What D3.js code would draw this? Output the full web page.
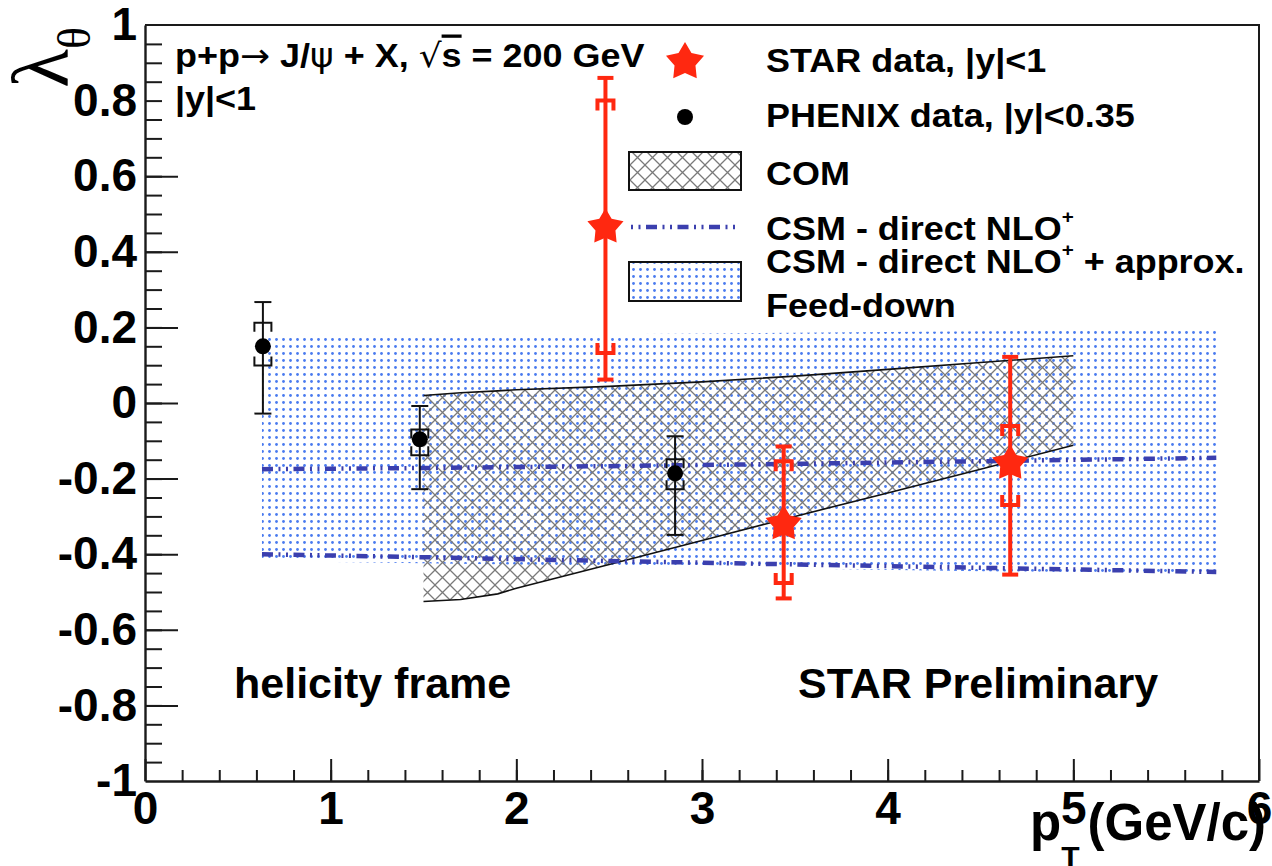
<!DOCTYPE html>
<html>
<head>
<meta charset="utf-8">
<script src="https://cdn.jsdelivr.net/npm/d3@7"></script>
<style>
html, body { margin: 0; padding: 0; background: #fff; }
svg { display: block; font-family: "Liberation Sans", Arial, Helvetica, sans-serif; }
</style>
</head>
<body>
<svg id="chart" width="1272" height="866"></svg>
<script>
// STAR points (red stars): value, stat and sys bounds
const starX = [2.48, 3.44, 4.66];
const starY = [0.465, -0.32, -0.16];
const starStatLow = [0.062, -0.517, -0.454];
const starStatHigh = [0.86, -0.115, 0.122];
const starSysLow = [0.132, -0.476, -0.27];
const starSysHigh = [0.80, -0.154, -0.061];

// PHENIX points (black dots)
const phenixX = [0.635, 1.48, 2.855];
const phenixY = [0.15, -0.096, -0.186];
const phenixStatLow = [-0.028, -0.228, -0.349];
const phenixStatHigh = [0.267, -0.008, -0.088];
const phenixSysLow = [0.099, -0.138, -0.228];
const phenixSysHigh = [0.212, -0.07, -0.149];

// COM band
const comX = [1.5, 1.7, 1.9, 2.0, 2.5, 3.0, 3.5, 4.0, 4.5, 5.0];
const comHigh = [0.02, 0.027, 0.032, 0.035, 0.044, 0.056, 0.071, 0.089, 0.107, 0.125];
const comLow = [-0.525, -0.52, -0.505, -0.49, -0.427, -0.364, -0.30, -0.238, -0.175, -0.112];

// CSM direct NLO+ lines and band with feed-down
const csmX = [0.63, 1.5, 2.5, 3.5, 4.5, 5.77];
const csmBandHigh = [0.175, 0.178, 0.182, 0.186, 0.19, 0.194];
const csmBandLow = [-0.418, -0.424, -0.431, -0.438, -0.445, -0.452];
const csmLineUpper = [-0.175, -0.172, -0.167, -0.161, -0.154, -0.145];
const csmLineLower = [-0.40, -0.408, -0.418, -0.427, -0.436, -0.447];

// ticks
const yTickLabels = [-1, -0.8, -0.6, -0.4, -0.2, 0, 0.2, 0.4, 0.6, 0.8, 1];
const yMajorTicks = [-0.8, -0.6, -0.4, -0.2, 0, 0.2, 0.4, 0.6];
const xTickLabels = [0, 1, 2, 3, 4, 5, 6];

const frame = { left: 145, right: 1259, top: 25, bottom: 781 };
const red = '#ff2810';
const csmBlue = '#3b3fae';
const dashPattern = '11,5.5,2,5.5,2,5.5';

const svg = d3.select('#chart');

const x = d3.scaleLinear().domain([0, 6]).range([frame.left, frame.right]);
const y = d3.scaleLinear().domain([-1, 1]).range([frame.bottom, frame.top]);

// patterns
const defs = svg.append('defs');
const hatch = defs.append('pattern')
    .attr('id', 'xhatch')
    .attr('patternUnits', 'userSpaceOnUse')
    .attr('width', 15).attr('height', 15);
hatch.append('path')
    .attr('d', 'M-2,-2L17,17M17,-2L-2,17M-2,13L2,17M13,-2L17,2M-2,2L2,-2M13,17L17,13')
    .attr('stroke', '#7a7a7a')
    .attr('stroke-width', 1.3)
    .attr('fill', 'none');

const dots = defs.append('pattern')
    .attr('id', 'dots')
    .attr('patternUnits', 'userSpaceOnUse')
    .attr('width', 7).attr('height', 7);
dots.append('circle')
    .attr('cx', 3.5).attr('cy', 3.5).attr('r', 1.4)
    .attr('fill', '#4a7bef');

const plot = svg.append('g');

// CSM band with feed-down
const csmIdx = d3.range(csmX.length);
plot.append('path')
    .attr('d', d3.area()
        .x(i => x(csmX[i]))
        .y0(i => y(csmBandLow[i]))
        .y1(i => y(csmBandHigh[i]))(csmIdx))
    .attr('fill', 'url(#dots)');

// COM band
const comIdx = d3.range(comX.length);
plot.append('path')
    .attr('d', d3.area()
        .x(i => x(comX[i]))
        .y0(i => y(comLow[i]))
        .y1(i => y(comHigh[i]))(comIdx))
    .attr('fill', 'url(#xhatch)');

[comHigh, comLow].forEach(arr => {
    plot.append('path')
        .attr('d', d3.line().x(i => x(comX[i])).y(i => y(arr[i]))(comIdx))
        .attr('fill', 'none')
        .attr('stroke', '#111')
        .attr('stroke-width', 1.6);
});

// CSM direct lines
[csmLineUpper, csmLineLower].forEach(arr => {
    plot.append('path')
        .attr('d', d3.line().x(i => x(csmX[i])).y(i => y(arr[i]))(csmIdx))
        .attr('fill', 'none')
        .attr('stroke', csmBlue)
        .attr('stroke-width', 4.5)
        .attr('stroke-dasharray', dashPattern);
});

// error bars: plain caps for stat, brackets for sys
function errorBar(g, cx, statLo, statHi, sysLo, sysHi, color, lw, half, tick) {
    const e = g.append('g').attr('stroke', color).attr('stroke-width', lw).attr('fill', 'none');
    const px = x(cx);
    e.append('line').attr('x1', px).attr('x2', px).attr('y1', y(statLo)).attr('y2', y(statHi));
    [statLo, statHi].forEach(v => {
        e.append('line').attr('x1', px - half).attr('x2', px + half).attr('y1', y(v)).attr('y2', y(v));
    });
    const yh = y(sysHi), yl = y(sysLo);
    e.append('path').attr('d', `M${px - half},${yh + tick}V${yh}H${px + half}V${yh + tick}`);
    e.append('path').attr('d', `M${px - half},${yl - tick}V${yl}H${px + half}V${yl - tick}`);
}

phenixX.forEach((v, i) => {
    errorBar(plot, v, phenixStatLow[i], phenixStatHigh[i], phenixSysLow[i], phenixSysHigh[i], '#111', 2, 8.5, 9);
});
starX.forEach((v, i) => {
    errorBar(plot, v, starStatLow[i], starStatHigh[i], starSysLow[i], starSysHigh[i], red, 4, 8, 10);
});

function starPath(R, r) {
    const pts = [];
    for (let k = 0; k < 10; k++) {
        const a = -Math.PI / 2 + k * Math.PI / 5;
        const rad = k % 2 === 0 ? R : r;
        pts.push([rad * Math.cos(a), rad * Math.sin(a)]);
    }
    return 'M' + pts.map(p => p[0].toFixed(2) + ',' + p[1].toFixed(2)).join('L') + 'Z';
}

plot.selectAll('.phenix')
    .data(phenixX)
    .enter().append('circle')
    .attr('cx', d => x(d))
    .attr('cy', (d, i) => y(phenixY[i]))
    .attr('r', 8)
    .attr('fill', '#000');

plot.selectAll('.star')
    .data(starX)
    .enter().append('path')
    .attr('d', starPath(19, 10.5))
    .attr('transform', (d, i) => `translate(${x(d)},${y(starY[i])})`)
    .attr('fill', red);

// axes
const axisColor = '#1a1a1a';
const fmt = d => String(+d.toFixed(1));

function styleAxis(g) {
    g.selectAll('line').attr('stroke', axisColor).attr('stroke-width', 2);
    g.selectAll('path.domain').attr('stroke', axisColor).attr('stroke-width', 2.4);
    g.selectAll('text')
        .attr('fill', '#000')
        .attr('font-size', 46)
        .attr('font-weight', 'bold')
        .attr('font-family', '"Liberation Sans", Arial, sans-serif');
}

const yMinor = d3.range(-19, 20).map(i => i * 0.05);
const xMinor = d3.range(1, 30).map(i => i * 0.2);

const yAxisG = svg.append('g').attr('transform', `translate(${frame.left},0)`);
yAxisG.append('g').call(d3.axisLeft(y).tickValues(yMinor).tickSizeInner(-17).tickSizeOuter(0).tickFormat(''))
    .call(styleAxis);
yAxisG.append('g').call(d3.axisLeft(y).tickValues(yMajorTicks).tickSizeInner(-33).tickSizeOuter(0).tickFormat(''))
    .call(g => g.select('.domain').remove()).call(styleAxis);
yAxisG.append('g').call(d3.axisLeft(y).tickValues(yTickLabels).tickSize(0).tickPadding(8).tickFormat(fmt))
    .call(g => g.select('.domain').remove()).call(styleAxis);

const xAxisG = svg.append('g').attr('transform', `translate(0,${frame.bottom})`);
xAxisG.append('g').call(d3.axisBottom(x).tickValues(xMinor).tickSizeInner(-11).tickSizeOuter(0).tickFormat(''))
    .call(styleAxis);
xAxisG.append('g').call(d3.axisBottom(x).tickValues(xTickLabels).tickSizeInner(-22).tickSizeOuter(0).tickFormat(''))
    .call(g => g.select('.domain').remove()).call(styleAxis);
xAxisG.append('g').call(d3.axisBottom(x).tickValues(xTickLabels).tickSize(0).tickPadding(10).tickFormat(fmt))
    .call(g => g.select('.domain').remove()).call(styleAxis);

// frame top and right
svg.append('path')
    .attr('d', `M${frame.left},${frame.top}H${frame.right}V${frame.bottom}`)
    .attr('fill', 'none')
    .attr('stroke', axisColor)
    .attr('stroke-width', 2);

// axis titles
const yTitle = svg.append('text')
    .attr('transform', 'translate(68,27) rotate(-90)')
    .attr('text-anchor', 'end')
    .attr('font-family', '"Liberation Serif", "DejaVu Serif", serif');
yTitle.append('tspan').attr('font-size', 80).text('λ');
yTitle.append('tspan').attr('font-size', 46).attr('dy', 22).text('θ');

const xTitle = svg.append('text')
    .attr('x', 1030).attr('y', 840)
    .attr('font-weight', 'bold');
xTitle.append('tspan').attr('font-size', 51).text('p');
xTitle.append('tspan').attr('font-size', 30).attr('dy', 27).text('T');
xTitle.append('tspan').attr('font-size', 51).attr('dy', -27).attr('dx', 8).text('(GeV/c)');

// text helper with slight horizontal stretch like the original
function label(px, py, size, sx) {
    return svg.append('text')
        .attr('transform', `translate(${px},${py}) scale(${sx},1)`)
        .attr('font-size', size)
        .attr('font-weight', 'bold')
        .attr('fill', '#000');
}

const thin = 'DejaVu Sans, sans-serif';
const t1 = label(175, 67, 33, 1.09);
t1.append('tspan').text('p+p');
t1.append('tspan').attr('font-weight', 'normal').attr('font-family', thin).text('→');
t1.append('tspan').text(' J/');
t1.append('tspan').attr('font-weight', 'normal').attr('font-family', thin).text('ψ');
t1.append('tspan').text(' + X, ');
t1.append('tspan').attr('font-weight', 'normal').attr('font-family', thin).text('√');
t1.append('tspan').style('text-decoration', 'overline').text('s');
t1.append('tspan').text(' = 200 GeV');
label(175, 110, 33, 1.09).text('|y|<1');

label(234, 698, 43, 1).text('helicity frame');
label(798, 698, 43, 1).text('STAR Preliminary');

// legend
const legendLabels = ['STAR data, |y|<1', 'PHENIX data, |y|<0.35', 'COM'];
const legendBase = [72, 127, 185];
legendLabels.forEach((s, i) => label(766, legendBase[i], 33, 1.09).text(s));

const l4 = label(766, 240, 33, 1.09);
l4.append('tspan').text('CSM - direct NLO');
l4.append('tspan').attr('font-size', 19).attr('dy', -17).text('+');
const l5 = label(766, 273, 33, 1.09);
l5.append('tspan').text('CSM - direct NLO');
l5.append('tspan').attr('font-size', 19).attr('dy', -17).text('+');
l5.append('tspan').attr('dy', 17).text(' + approx.');
label(766, 317, 33, 1.09).text('Feed-down');

const leg = svg.append('g');
leg.append('path').attr('d', starPath(20, 11)).attr('transform', 'translate(685,62)').attr('fill', red);
leg.append('circle').attr('cx', 685).attr('cy', 117).attr('r', 8).attr('fill', '#000');
leg.append('rect').attr('x', 629).attr('y', 152).attr('width', 112).attr('height', 38)
    .attr('fill', 'url(#xhatch)').attr('stroke', '#111').attr('stroke-width', 2);
leg.append('line').attr('x1', 631).attr('x2', 736).attr('y1', 227).attr('y2', 227)
    .attr('stroke', csmBlue).attr('stroke-width', 4.5).attr('stroke-dasharray', '2,5.5,2,5.5,11,5.5');
leg.append('rect').attr('x', 629).attr('y', 262).attr('width', 112).attr('height', 39)
    .attr('fill', 'url(#dots)').attr('stroke', '#111').attr('stroke-width', 2);
</script>
</body>
</html>
